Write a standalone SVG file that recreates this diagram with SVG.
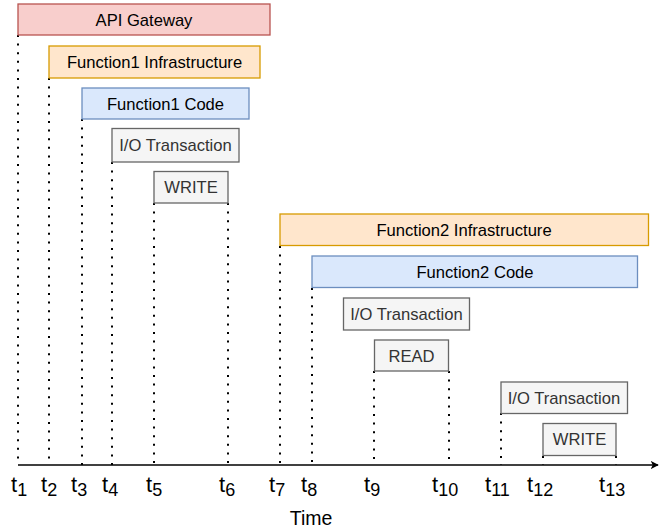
<svg xmlns="http://www.w3.org/2000/svg" width="672" height="529" viewBox="0 0 672 529">
<defs>
<style>
.box{stroke-width:1.3}
.red{fill:#f8cecc;stroke:#b85450}
.orange{fill:#ffe6cc;stroke:#d79b00}
.blue{fill:#dae8fc;stroke:#6c8ebf}
.gray{fill:#f5f5f5;stroke:#666666}
.lbl{font-family:"Liberation Sans",Arial,sans-serif;font-size:16.6px;text-anchor:middle;fill:#000}
.lblg{fill:#333333}
.dot{stroke:#000;stroke-width:2;stroke-dasharray:2 6.6;fill:none}
.t{font-family:"Liberation Sans",Arial,sans-serif;font-size:22px;fill:#000}
.sub{font-size:18px}
</style>
<marker id="arr" viewBox="0 0 10 10" refX="9" refY="5" markerWidth="8" markerHeight="8" markerUnits="userSpaceOnUse" orient="auto">
<path d="M0,0 L10,5 L0,10 L2.5,5 Z" fill="#000"/>
</marker>
</defs>
<g id="connectors">
<line class="dot" x1="18" y1="35" x2="18" y2="465"/>
<line class="dot" x1="49" y1="78" x2="49" y2="465"/>
<line class="dot" x1="82" y1="119" x2="82" y2="465"/>
<line class="dot" x1="112" y1="162" x2="112" y2="465"/>
<line class="dot" x1="154" y1="203" x2="154" y2="465"/>
<line class="dot" x1="228" y1="203" x2="228" y2="465"/>
<line class="dot" x1="280" y1="246" x2="280" y2="465"/>
<line class="dot" x1="312" y1="288" x2="312" y2="465"/>
<line class="dot" x1="374" y1="371" x2="374" y2="465"/>
<line class="dot" x1="449" y1="371" x2="449" y2="465"/>
<line class="dot" x1="501" y1="413" x2="501" y2="465"/>
<line class="dot" x1="543" y1="456" x2="543" y2="465"/>
<line class="dot" x1="616" y1="456" x2="616" y2="465"/>
<line id="axis" x1="18" y1="465" x2="658" y2="465" stroke="#000" stroke-width="1.4" marker-end="url(#arr)"/>
</g>
<g id="api-gateway"><rect class="box red" x="18" y="4" width="252" height="31"/><text class="lbl" x="144" y="25.5">API Gateway</text></g>
<g id="f1-infra"><rect class="box orange" x="49" y="46" width="211" height="32"/><text class="lbl" x="154.5" y="67.5">Function1 Infrastructure</text></g>
<g id="f1-code"><rect class="box blue" x="82" y="88" width="167" height="31"/><text class="lbl" x="165.5" y="109.5">Function1 Code</text></g>
<g id="io1"><rect class="box gray" x="112" y="128.5" width="127" height="33.5"/><text class="lbl lblg" x="175.5" y="151">I/O Transaction</text></g>
<g id="write1"><rect class="box gray" x="154" y="171.5" width="74" height="31.5"/><text class="lbl lblg" x="191" y="193">WRITE</text></g>
<g id="f2-infra"><rect class="box orange" x="280" y="214" width="368.5" height="31.5"/><text class="lbl" x="464" y="235.5">Function2 Infrastructure</text></g>
<g id="f2-code"><rect class="box blue" x="312" y="256" width="325.5" height="31.5"/><text class="lbl" x="475" y="277.5">Function2 Code</text></g>
<g id="io2"><rect class="box gray" x="343.5" y="298" width="126" height="32"/><text class="lbl lblg" x="406.5" y="319.5">I/O Transaction</text></g>
<g id="read"><rect class="box gray" x="374.5" y="340" width="74" height="31"/><text class="lbl lblg" x="411.5" y="361.5">READ</text></g>
<g id="io3"><rect class="box gray" x="501" y="382" width="126.5" height="31.5"/><text class="lbl lblg" x="564" y="403.5">I/O Transaction</text></g>
<g id="write3"><rect class="box gray" x="543" y="423.5" width="73" height="32"/><text class="lbl lblg" x="579.5" y="445">WRITE</text></g>
<g id="labels">
<text class="t" x="11" y="491.5">t<tspan class="sub" dy="4">1</tspan></text>
<text class="t" x="41" y="491.5">t<tspan class="sub" dy="4">2</tspan></text>
<text class="t" x="71" y="491.5">t<tspan class="sub" dy="4">3</tspan></text>
<text class="t" x="102" y="491.5">t<tspan class="sub" dy="4">4</tspan></text>
<text class="t" x="146" y="491.5">t<tspan class="sub" dy="4">5</tspan></text>
<text class="t" x="219" y="491.5">t<tspan class="sub" dy="4">6</tspan></text>
<text class="t" x="269" y="491.5">t<tspan class="sub" dy="4">7</tspan></text>
<text class="t" x="301" y="491.5">t<tspan class="sub" dy="4">8</tspan></text>
<text class="t" x="364" y="491.5">t<tspan class="sub" dy="4">9</tspan></text>
<text class="t" x="432" y="491.5">t<tspan class="sub" dy="4">10</tspan></text>
<text class="t" x="485" y="491.5">t<tspan class="sub" dy="4">11</tspan></text>
<text class="t" x="527" y="491.5">t<tspan class="sub" dy="4">12</tspan></text>
<text class="t" x="599" y="491.5">t<tspan class="sub" dy="4">13</tspan></text>
<text x="311" y="525" font-family="Liberation Sans,Arial,sans-serif" font-size="19.5" text-anchor="middle" fill="#000">Time</text>
</g>
</svg>
